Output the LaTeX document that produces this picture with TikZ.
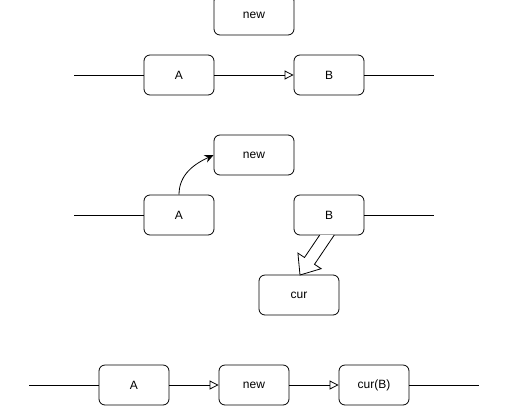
\documentclass[tikz,border=0pt]{standalone}
\usepackage{fontspec}
\setmainfont{Liberation Sans}
\usetikzlibrary{arrows.meta}

\begin{document}
\begin{tikzpicture}[x=1pt, y=-1pt, line width=0.8pt,
    box/.style={draw, rounded corners=6pt, minimum width=70pt, minimum height=40pt, inner sep=0pt, font=\fontsize{12}{14}\selectfont},
    wide/.style={box, minimum width=80pt},
    link/.style={-{Triangle[open, length=9pt, width=9pt, line width=0.8pt]}}]
    \useasboundingbox (0,0) rectangle (517,408);
    % first row
    \node[wide] (new1) at (254,15) {new};
    \node[box] (a1) at (179,75) {A};
    \node[box] (b1) at (329,75) {B};
    \coordinate (l1) at (74,75);
    \coordinate (r1) at (434,75);
    \draw (l1) -- (a1);
    \draw[link] (a1) -- (b1);
    \draw (b1) -- (r1);
    % second row
    \node[wide] (new2) at (254,155) {new};
    \node[box] (a2) at (179,215) {A};
    \node[box] (b2) at (329,215) {B};
    \node[wide] (cur2) at (299,295) {cur};
    \coordinate (l2) at (74,215);
    \coordinate (r2) at (434,215);
    \draw (l2) -- (a2);
    \draw (b2) -- (r2);
    \draw[-{Stealth[length=9pt, width=8pt]}] (a2.north) to[out=90, in=205] (new2.west);
    \draw[fill=white, line join=miter] (319.7,235) -- (304.5,257.5) -- (297.9,253.1) -- (300,275)
        -- (321.1,268.7) -- (314.5,264.3) -- (334.3,235);
    % third row
    \node[box] (a3) at (134,385) {A};
    \node[box] (new3) at (254,385) {new};
    \node[box] (curb3) at (374,385) {cur(B)};
    \coordinate (l3) at (29,385);
    \coordinate (r3) at (479,385);
    \draw (l3) -- (a3);
    \draw[link] (a3) -- (new3);
    \draw[link] (new3) -- (curb3);
    \draw (curb3) -- (r3);
\end{tikzpicture}
\end{document}
